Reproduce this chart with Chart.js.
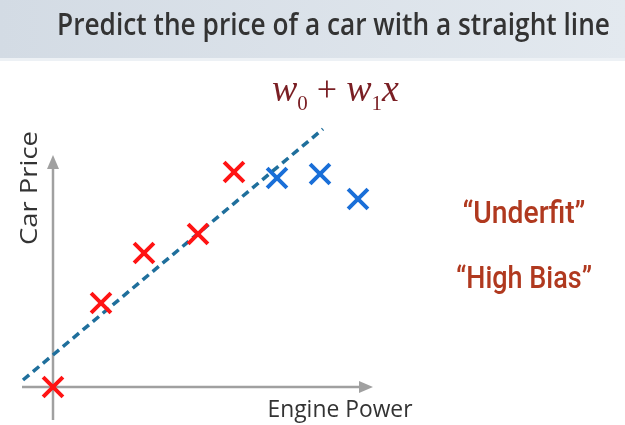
<!DOCTYPE html>
<html>
<head>
<meta charset="utf-8">
<script src="https://cdn.jsdelivr.net/npm/chart.js@4/dist/chart.umd.min.js"></script>
<style>
  body { margin: 0; background: #fff; }
  canvas { display: block; }
</style>
</head>
<body>
<canvas id="myChart" width="625" height="425"></canvas>
<script>
// data points (engine power vs car price, arbitrary units)
const redX = [0, 4.8, 9.1, 14.5, 18.1];
const redY = [0, 8.4, 13.4, 15.3, 21.5];
const blueX = [22.4, 26.7, 30.5];
const blueY = [20.9, 21.3, 18.8];
// the straight line w0 + w1 x
const fitX = [-3, 27];
const fitY = [0.7, 25.8];
// axis extents
const xAxisRange = [-3.1, 32];
const yAxisRange = [-3.3, 23.2];

const titleText = 'Predict the price of a car with a straight line';
const xLabel = 'Engine Power';
const yLabel = 'Car Price';
const notes = ['\u201CUnderfit\u201D', '\u201CHigh Bias\u201D'];

function toPts(xs, ys) {
    return xs.map((x, i) => ({ x: x, y: ys[i] }));
}

// draws text squeezed/stretched to a given width
function fitText(ctx, text, x, y, width, align) {
    const w = ctx.measureText(text).width;
    const k = width / w;
    ctx.save();
    ctx.translate(x, y);
    ctx.scale(k, 1);
    ctx.textAlign = align || 'left';
    ctx.fillText(text, 0, 0);
    ctx.restore();
}

function arrow(ctx, x1, y1, x2, y2) {
    const ang = Math.atan2(y2 - y1, x2 - x1);
    const len = 14, half = 6;
    const bx = x2 - Math.cos(ang) * len, by = y2 - Math.sin(ang) * len;
    ctx.beginPath();
    ctx.moveTo(x1, y1);
    ctx.lineTo(bx, by);
    ctx.stroke();
    ctx.beginPath();
    ctx.moveTo(x2, y2);
    ctx.lineTo(bx - Math.sin(ang) * half, by + Math.cos(ang) * half);
    ctx.lineTo(bx + Math.sin(ang) * half, by - Math.cos(ang) * half);
    ctx.closePath();
    ctx.fill();
}

const decorPlugin = {
    id: 'decor',
    beforeDatasetsDraw(chart) {
        const ctx = chart.ctx;
        const xs = chart.scales.x, ys = chart.scales.y;
        // header band
        ctx.save();
        const g = ctx.createLinearGradient(0, 0, 625, 0);
        g.addColorStop(0, '#d3dbe4');
        g.addColorStop(1, '#e3e9ef');
        ctx.fillStyle = g;
        ctx.fillRect(0, 0, 625, 60);
        ctx.fillStyle = '#edf1f5';
        ctx.fillRect(0, 58, 625, 3);
        ctx.fillStyle = '#333333';
        ctx.font = '600 31px "Open Sans"';
        ctx.textBaseline = 'alphabetic';
        fitText(ctx, titleText, 57, 35, 553);

        // axes with arrows
        ctx.strokeStyle = '#a0a0a0';
        ctx.fillStyle = '#a0a0a0';
        ctx.lineWidth = 2.5;
        arrow(ctx, xs.getPixelForValue(xAxisRange[0]), ys.getPixelForValue(0),
              xs.getPixelForValue(xAxisRange[1]), ys.getPixelForValue(0));
        arrow(ctx, xs.getPixelForValue(0), ys.getPixelForValue(yAxisRange[0]),
              xs.getPixelForValue(0), ys.getPixelForValue(yAxisRange[1]));

        // axis labels
        ctx.fillStyle = '#333333';
        ctx.font = '500 23px "Open Sans"';
        ctx.textBaseline = 'alphabetic';
        fitText(ctx, xLabel, 340, 417, 145, 'center');
        ctx.save();
        ctx.translate(37, 188);
        ctx.rotate(-Math.PI / 2);
        fitText(ctx, yLabel, 0, 0, 114, 'center');
        ctx.restore();

        // formula
        ctx.fillStyle = '#7a1f24';
        ctx.textBaseline = 'alphabetic';
        let px = 272;
        const base = 101;
        const parts = [
            ['w', 'italic 38px "Liberation Serif"', 0],
            ['0', '21px "Liberation Serif"', 9],
            [' + ', '36px "Liberation Serif"', 0],
            ['w', 'italic 38px "Liberation Serif"', 0],
            ['1', '21px "Liberation Serif"', 9],
            ['x', 'italic 38px "Liberation Serif"', 0]
        ];
        parts.forEach(p => {
            ctx.font = p[1];
            ctx.fillText(p[0], px, base + p[2]);
            px += ctx.measureText(p[0]).width;
        });

        // notes
        ctx.fillStyle = '#b0391f';
        ctx.font = '500 32px "Roboto"';
        ctx.textBaseline = 'alphabetic';
        fitText(ctx, notes[0], 524, 223, 123, 'center');
        fitText(ctx, notes[1], 524, 288, 136, 'center');
        ctx.restore();
    }
};

new Chart(document.getElementById('myChart').getContext('2d'), {
    type: 'scatter',
    data: {
        datasets: [{
            data: toPts(fitX, fitY),
            showLine: true,
            borderColor: '#1f6f9c',
            borderWidth: 3.5,
            borderDash: [8, 5],
            pointRadius: 0,
            order: 2
        }, {
            data: toPts(redX, redY),
            pointStyle: 'crossRot',
            pointRadius: 14,
            borderColor: '#ff1414',
            borderWidth: 4,
            order: 1
        }, {
            data: toPts(blueX, blueY),
            pointStyle: 'crossRot',
            pointRadius: 14,
            borderColor: '#1a6fd8',
            borderWidth: 4,
            order: 1
        }]
    },
    options: {
        responsive: false,
        animation: false,
        events: [],
        layout: { padding: 0, autoPadding: false },
        scales: {
            x: { type: 'linear', display: false, min: -5.3, max: 57.2 },
            y: { type: 'linear', display: false, min: -3.8, max: 38.7 }
        },
        plugins: {
            legend: { display: false },
            tooltip: { enabled: false }
        }
    },
    plugins: [decorPlugin]
});
</script>
</body>
</html>
